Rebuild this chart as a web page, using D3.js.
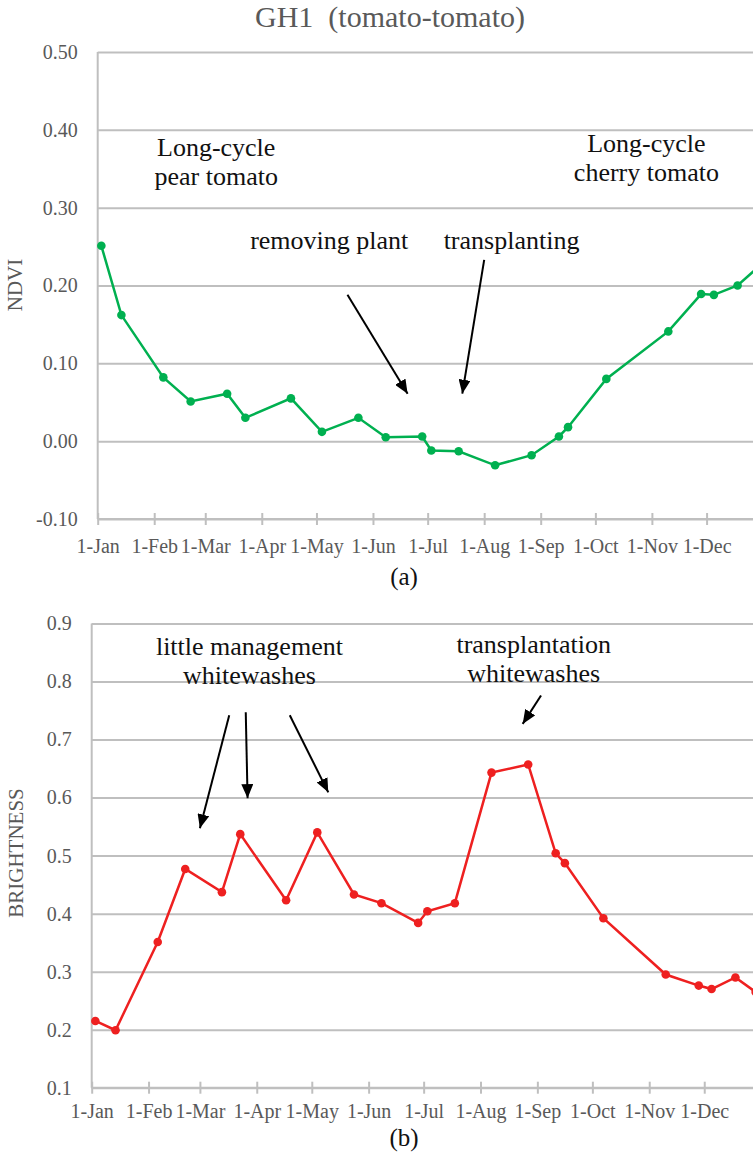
<!DOCTYPE html>
<html>
<head>
<meta charset="utf-8">
<script src="https://cdn.jsdelivr.net/npm/d3@7"></script>
<style>
  body { margin: 0; background: #fff; }
  svg { display: block; font-family: "Liberation Serif", "Times New Roman", "DejaVu Serif", serif; }
</style>
</head>
<body>
<svg id="chart" width="753" height="1154"></svg>
<script>
// acquisition dates (same for both panels)
const dates = ["2019-01-03", "2019-01-14", "2019-02-06", "2019-02-21", "2019-03-13", "2019-03-23",
  "2019-04-17", "2019-05-04", "2019-05-24", "2019-06-08", "2019-06-28", "2019-07-03", "2019-07-18",
  "2019-08-07", "2019-08-27", "2019-09-11", "2019-09-16", "2019-10-07", "2019-11-10", "2019-11-28",
  "2019-12-05", "2019-12-18", "2019-12-29"];

const ndvi = [0.251, 0.162, 0.082, 0.051, 0.061, 0.030, 0.055, 0.012, 0.030, 0.005, 0.006, -0.012,
  -0.013, -0.031, -0.018, 0.006, 0.018, 0.080, 0.141, 0.189, 0.188, 0.200, 0.223];

const brightness = [0.215, 0.199, 0.351, 0.477, 0.437, 0.537, 0.423, 0.540, 0.433, 0.418, 0.384, 0.404,
  0.418, 0.643, 0.657, 0.504, 0.487, 0.392, 0.295, 0.276, 0.270, 0.290, 0.265];

const ndviTicks = [-0.1, 0, 0.1, 0.2, 0.3, 0.4, 0.5];
const brightTicks = [0.1, 0.2, 0.3, 0.4, 0.5, 0.6, 0.7, 0.8, 0.9];

// annotations: [text lines, date, value]
const ndviNotes = [
  [["Long-cycle", "pear tomato"], "2019-03-07", 0.367],
  [["Long-cycle", "cherry tomato"], "2019-10-29", 0.372],
  [["removing plant"], "2019-05-08", 0.247],
  [["transplanting"], "2019-08-16", 0.247]
];
const ndviArrows = [
  ["2019-05-18", 0.188, "2019-06-20", 0.061],
  ["2019-08-01", 0.233, "2019-07-20", 0.061]
];
const brightNotes = [
  [["little management", "whitewashes"], "2019-03-28", 0.845],
  [["transplantation", "whitewashes"], "2019-08-30", 0.849]
];
const brightArrows = [
  ["2019-03-17", 0.742, "2019-03-01", 0.547],
  ["2019-03-26", 0.747, "2019-03-27", 0.599],
  ["2019-04-19", 0.742, "2019-05-10", 0.609],
  ["2019-09-03", 0.776, "2019-08-24", 0.727]
];

const parse = d3.timeParse("%Y-%m-%d");
const svg = d3.select("#chart");
const grey = "#bfbfbf", textGrey = "#595959", serif = "'Liberation Serif', 'Times New Roman', serif";

svg.append("defs").append("marker")
  .attr("id", "head")
  .attr("markerUnits", "userSpaceOnUse")
  .attr("viewBox", "0 0 14 12")
  .attr("markerWidth", 14).attr("markerHeight", 12)
  .attr("refX", 14).attr("refY", 6)
  .attr("orient", "auto")
  .append("path").attr("d", "M0,0L14,6L0,12Z").attr("fill", "#000");

svg.append("text")
  .attr("x", 390).attr("y", 27)
  .attr("text-anchor", "middle")
  .attr("font-size", 30).attr("fill", textGrey)
  .style("white-space", "pre")
  .text("GH1  (tomato-tomato)");

function panel(opt) {
  let x = d3.scaleTime().domain([parse("2019-01-01"), parse("2020-01-01")]).range([opt.left, opt.right]),
      y = d3.scaleLinear().domain(d3.extent(opt.ticks)).range([opt.bottom, opt.top]),
      g = svg.append("g");

  // gridlines + y labels
  let ya = g.append("g")
    .attr("transform", "translate(" + opt.left + ",0)")
    .call(d3.axisLeft(y).tickValues(opt.ticks).tickSize(-(753 - opt.left)).tickPadding(20).tickFormat(opt.fmt));
  ya.attr("font-family", serif);
  ya.select(".domain").remove();
  ya.selectAll("line").attr("stroke", grey).attr("stroke-width", 2);
  ya.selectAll("text").attr("font-size", 20).attr("fill", textGrey);

  g.append("line")
    .attr("x1", opt.left).attr("x2", opt.left)
    .attr("y1", y(opt.ticks[opt.ticks.length - 1])).attr("y2", opt.bottom)
    .attr("stroke", grey).attr("stroke-width", 2);

  // x axis
  let xa = g.append("g")
    .attr("transform", "translate(0," + opt.bottom + ")")
    .call(d3.axisBottom(x).tickValues(d3.timeMonth.range(parse("2019-01-01"), parse("2020-01-01")))
      .tickFormat(d3.timeFormat("%-d-%b")).tickSize(6));
  xa.attr("font-family", serif);
  xa.select(".domain").attr("stroke", grey).attr("stroke-width", 2).attr("d", "M" + opt.left + ",0H753");
  xa.selectAll("line").attr("stroke", grey).attr("stroke-width", 2).attr("y1", -6).attr("y2", 6);
  xa.selectAll("text").attr("font-size", 20).attr("fill", textGrey)
    .attr("dy", null).attr("y", opt.labelY);

  // y title
  svg.append("text")
    .attr("transform", "translate(" + opt.titleX + "," + opt.titleY + ") rotate(-90)")
    .attr("text-anchor", "middle")
    .attr("font-size", 21).attr("fill", textGrey)
    .text(opt.title);

  let data = dates.map((d, i) => ({date: parse(d), v: opt.values[i]}));

  g.append("path")
    .datum(data)
    .attr("fill", "none")
    .attr("stroke", opt.color).attr("stroke-width", 2.5)
    .attr("d", d3.line().x(d => x(d.date)).y(d => y(d.v)));

  g.selectAll(".pt")
    .data(data)
    .enter().append("circle")
    .attr("cx", d => x(d.date)).attr("cy", d => y(d.v))
    .attr("r", 4.3).attr("fill", opt.color);

  // annotations
  opt.notes.forEach(n => {
    let t = g.append("text")
      .attr("text-anchor", "middle")
      .attr("font-size", 26).attr("fill", "#111");
    n[0].forEach((line, i) => {
      t.append("tspan").attr("x", x(parse(n[1]))).attr("y", y(n[2]) + i * 29).text(line);
    });
  });

  g.selectAll(".arrow")
    .data(opt.arrows)
    .enter().append("line")
    .attr("x1", d => x(parse(d[0]))).attr("y1", d => y(d[1]))
    .attr("x2", d => x(parse(d[2]))).attr("y2", d => y(d[3]))
    .attr("stroke", "#000").attr("stroke-width", 2)
    .attr("marker-end", "url(#head)");

  svg.append("text")
    .attr("x", 404).attr("y", opt.capY)
    .attr("text-anchor", "middle")
    .attr("font-size", 25).attr("fill", "#111")
    .text(opt.caption);
}

panel({
  left: 97.7, right: 763.1, top: 52, bottom: 519, labelY: 34,
  ticks: ndviTicks, fmt: d => d.toFixed(2), values: ndvi, color: "#00b050",
  title: "NDVI", titleX: 22, titleY: 285,
  notes: ndviNotes, arrows: ndviArrows, caption: "(a)", capY: 585
});

panel({
  left: 91.7, right: 761.1, top: 623.5, bottom: 1087.7, labelY: 30,
  ticks: brightTicks, fmt: d => d.toFixed(1), values: brightness, color: "#ee2020",
  title: "BRIGHTNESS", titleX: 23, titleY: 853,
  notes: brightNotes, arrows: brightArrows, caption: "(b)", capY: 1146
});
</script>
</body>
</html>
